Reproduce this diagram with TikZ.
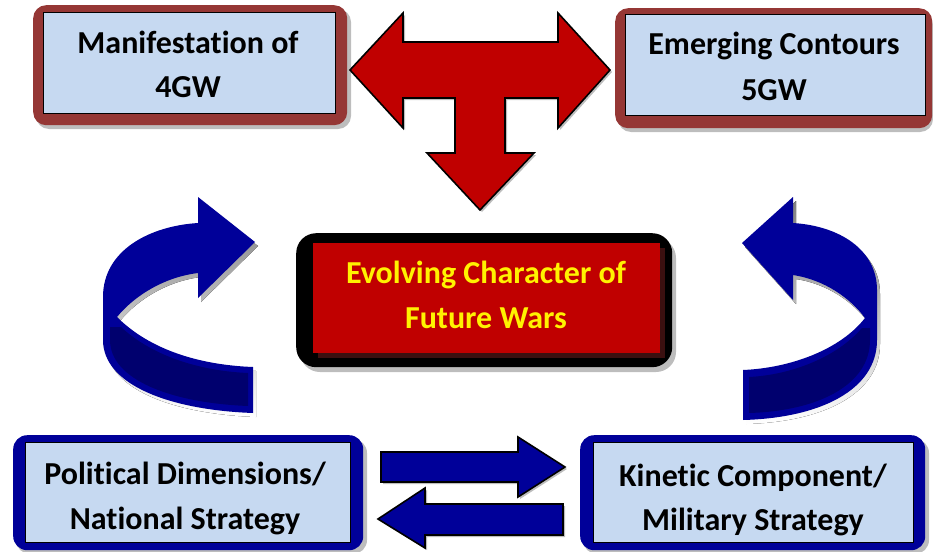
\documentclass[tikz,border=0pt]{standalone}
\usepackage{fontspec}
\setmainfont{Carlito}[Ligatures={NoCommon}]
\usetikzlibrary{calc}

\definecolor{frameBrown}{HTML}{953735}
\definecolor{boxBlue}{HTML}{C6D9F1}
\definecolor{warRed}{HTML}{C00000}
\definecolor{navy}{HTML}{000099}
\definecolor{deepNavy}{HTML}{00006E}
\definecolor{shadowRed}{HTML}{3B1010}
\definecolor{shade}{HTML}{BDBDBD}

\tikzset{
  outerframe/.style={draw=none, fill=#1, rounded corners=13pt},
  innerbox/.style={draw=black, line width=1.4pt, fill=boxBlue},
  dropshadow/.style={fill=shade, draw=none},
  label/.style={font=\bfseries\fontsize{32}{38}\selectfont, anchor=base, inner sep=0pt},
  blockarrow/.style={fill=#1, draw=black, line width=1.6pt, line join=miter},
}

\begin{document}
\begin{tikzpicture}[x=1pt, y=-1pt]
\useasboundingbox (0,0) rectangle (933,551);

% ---------- top left: 4GW ----------
\fill[dropshadow, rounded corners=13pt] (36,9) rectangle (351,129);
\node[outerframe=frameBrown, minimum width=314pt, minimum height=120pt, anchor=north west, inner sep=0pt] (fourF) at (33,5) {};
\node[innerbox, minimum width=292pt, minimum height=101pt, anchor=north west, inner sep=0pt] (four) at (43,12) {};
\node[label] (fourA) at (188,53) {Manifestation of};
\node[label] (fourB) at (188,97) {4GW};

% ---------- top right: 5GW ----------
\fill[dropshadow, rounded corners=13pt] (618,12) rectangle (933,132);
\node[outerframe=frameBrown, minimum width=317pt, minimum height=120pt, anchor=north west, inner sep=0pt] (fiveF) at (615,8) {};
\node[innerbox, minimum width=300pt, minimum height=101pt, anchor=north west, inner sep=0pt] (five) at (625,14) {};
\node[label] (fiveA) at (774,55) {Emerging Contours};
\node[label] (fiveB) at (774,100) {5GW};

% ---------- T-shaped three-way arrow ----------
\fill[dropshadow] ($(350,70)+(2,2)$) -- ++(53,-57) -- ++(0,29) -- ++(155,0) -- ++(0,-29)
  -- ++(52,57) -- ++(-52,58) -- ++(0,-30) -- ++(-53,0) -- ++(0,55) -- ++(29,0)
  -- ++(-54,57) -- ++(-53,-57) -- ++(28,0) -- ++(0,-55) -- ++(-52,0) -- ++(0,30) -- cycle;
\draw[blockarrow=warRed] (350,70) -- (403,13) -- (403,42) -- (558,42) -- (558,13)
  -- (610,70) -- (558,128) -- (558,98) -- (505,98) -- (505,153) -- (534,153)
  -- (480,210) -- (427,153) -- (455,153) -- (455,98) -- (403,98) -- (403,128) -- cycle;

% ---------- centre: evolving character ----------
\fill[dropshadow, rounded corners=20pt] (300,238) rectangle (676,372);
\node[fill=black, rounded corners=20pt, minimum width=376pt, minimum height=134pt, anchor=north west, inner sep=0pt] (coreF) at (296,233) {};
\fill[shadowRed] (318,248) rectangle (665,358);
\node[fill=warRed, minimum width=347pt, minimum height=110pt, anchor=north west, inner sep=0pt] (core) at (313,243) {};
\node[label, text=yellow] (coreA) at (486,283) {Evolving Character of};
\node[label, text=yellow] (coreB) at (486,328) {Future Wars};

% ---------- bottom left: political ----------
\fill[dropshadow, rounded corners=14pt] (16,439) rectangle (367,554);
\node[outerframe=navy, rounded corners=14pt, minimum width=350pt, minimum height=115pt, anchor=north west, inner sep=0pt] (polF) at (13,435) {};
\node[innerbox, minimum width=325pt, minimum height=100pt, anchor=north west, inner sep=0pt] (pol) at (25,442) {};
\node[label] (polA) at (185,484) {Political Dimensions/};
\node[label] (polB) at (185,529) {National Strategy};

% ---------- bottom right: kinetic ----------
\fill[dropshadow, rounded corners=14pt] (583,439) rectangle (929,554);
\node[outerframe=navy, rounded corners=14pt, minimum width=345pt, minimum height=115pt, anchor=north west, inner sep=0pt] (kinF) at (580,435) {};
\node[innerbox, minimum width=320pt, minimum height=100pt, anchor=north west, inner sep=0pt] (kin) at (593,442) {};
\node[label] (kinA) at (753,486) {Kinetic Component/};
\node[label] (kinB) at (753,530) {Military Strategy};

% ---------- exchange arrows between the bottom boxes ----------
\fill[dropshadow] (383,454) -- (520,454) -- (520,439) -- (567,469) -- (520,499) -- (520,484) -- (383,484) -- cycle;
\draw[blockarrow=navy] (381,452) -- (518,452) -- (518,437) -- (565,467) -- (518,497) -- (518,482) -- (381,482) -- cycle;
\fill[dropshadow] (565,506) -- (427,506) -- (427,490) -- (380,521) -- (427,550) -- (427,537) -- (565,537) -- cycle;
\draw[blockarrow=navy] (563,504) -- (425,504) -- (425,488) -- (378,519) -- (425,548) -- (425,535) -- (563,535) -- cycle;

% ---------- left curved ribbon arrow ----------
\begin{scope}[shift={(3,4)}]
\fill[shade] (198,197) -- (255,242) -- (198,298) -- (198,273)
  .. controls (165,277) and (135,295) .. (117,317)
  .. controls (150,350) and (200,365) .. (253,367) -- (253,413)
  .. controls (170,410) and (103,385) .. (103,340) -- (103,297)
  .. controls (103,250) and (150,226) .. (198,223) -- cycle;
\end{scope}
\fill[navy] (198,197) -- (255,242) -- (198,298) -- (198,273)
  .. controls (165,277) and (135,295) .. (117,317)
  .. controls (150,350) and (200,365) .. (253,367) -- (253,413)
  .. controls (170,410) and (103,385) .. (103,340) -- (103,297)
  .. controls (103,250) and (150,226) .. (198,223) -- cycle;
\fill[deepNavy] (121,327) .. controls (152,356) and (200,371) .. (248,373) -- (248,406)
  .. controls (172,403) and (110,380) .. (110,340) -- (110,327) -- cycle;

% ---------- right curved ribbon arrow ----------
\begin{scope}[shift={(3,4)}]
\fill[shade] (793,197) -- (742,243) -- (793,300) -- (793,275)
  .. controls (825,280) and (850,298) .. (865,318)
  .. controls (840,350) and (790,368) .. (743,370) -- (743,420)
  .. controls (820,418) and (877,390) .. (877,340) -- (877,290)
  .. controls (877,250) and (840,226) .. (793,223) -- cycle;
\end{scope}
\fill[navy] (793,197) -- (742,243) -- (793,300) -- (793,275)
  .. controls (825,280) and (850,298) .. (865,318)
  .. controls (840,350) and (790,368) .. (743,370) -- (743,420)
  .. controls (820,418) and (877,390) .. (877,340) -- (877,290)
  .. controls (877,250) and (840,226) .. (793,223) -- cycle;
\fill[deepNavy] (862,328) .. controls (836,358) and (790,375) .. (749,377) -- (749,413)
  .. controls (818,411) and (870,385) .. (870,340) -- (870,328) -- cycle;
\end{tikzpicture}
\end{document}
